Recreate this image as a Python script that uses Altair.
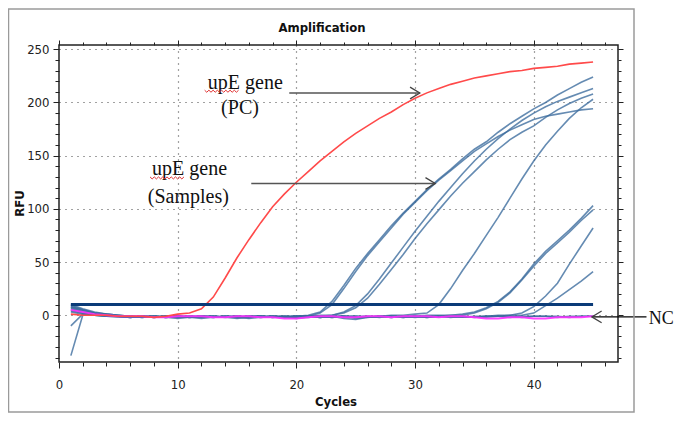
import altair as alt
import pandas as pd

# ---------------- data ----------------
cycles = list(range(1, 46))

pc_rfu = [1, 0, 0, 0, -1, -1, -1, -2, -1, 1,
          2, 6, 17, 35, 54, 71, 87, 102, 114, 125,
          135, 145, 154, 163, 171, 178, 185, 191, 198, 204,
          209, 213, 217, 220, 223, 225, 227, 229, 230, 232,
          233, 234, 236, 237, 238]

nc_rfu = [5, 3, 1, 0, -1, -1, -1, -2, -2, -1,
          -1, -1, -2, -2, -1, -1, -2, -2, -3, -3,
          -2, -1, -1, -2, -2, -1, -1, -2, -1, -1,
          -1, -2, -1, -1, -2, -3, -3, -2, -2, -3,
          -3, -2, -2, -2, -1]

s_e1 = [8, 4, 2, 1, 0, -1, -1, -2, -1, -1, -2, -1, -1, -2, -2, -1, -1, -2, -1, -1,
        0, 3, 13, 28, 44, 58, 71, 84, 96, 107, 118, 128, 137, 147, 156, 163, 172,
        180, 187, 194, 200, 207, 213, 219, 224]
s_e2 = [-38, 0, 1, 0, -1, -1, -2, -1, -2, -1, -1, -2, -2, -1, -2, -1, -2, -1, -1, -2,
        -1, 2, 10, 25, 41, 56, 69, 82, 95, 106, 117, 127, 136, 145, 154, 161, 168,
        174, 179, 184, 187, 189, 191, 193, 194]
s_m1 = [-10, 1, 1, 0, -1, -2, -1, -1, -2, -3, -2, -1, -1, -2, -1, -2, -2, -1, -1, -2,
        -1, -1, 0, 3, 9, 20, 34, 49, 64, 79, 93, 107, 120, 133, 145, 156, 166, 175,
        183, 190, 196, 201, 205, 209, 213]
s_m2 = [9, 5, 2, 1, 0, -1, -1, -2, -1, -2, -1, -1, -2, -1, -1, -2, -1, -2, -1, -1,
        -1, 0, 0, 2, 7, 16, 29, 43, 57, 72, 86, 99, 112, 124, 135, 146, 156, 165,
        172, 178, 186, 193, 199, 204, 208]
s_l1 = [7, 3, 1, 0, -1, -1, -2, -2, -1, -1, -2, -1, -2, -2, -1, -1, -2, -1, -2, -2,
        -1, -1, -2, -1, -1, -2, -1, 0, 0, 1, 2, 10, 25, 42, 58, 75, 92, 110, 128,
        145, 160, 173, 185, 195, 203]
s_p1 = [6, 3, 1, 0, -1, -2, -1, -1, -2, -1, -2, -2, -1, -1, -2, -1, -1, -2, -2, -1,
        -1, -2, -1, -1, -2, -1, -1, -2, -1, -1, 0, 0, 0, 1, 3, 7, 13, 22, 34, 48,
        60, 70, 80, 91, 103]
s_p2 = [5, 2, 0, -1, -1, -2, -2, -1, -1, -2, -1, -1, -2, -2, -1, -2, -1, -1, -2, -1,
        -2, -1, -2, -1, -1, -2, -2, -1, -1, -2, -1, -1, 0, 0, 2, 6, 12, 21, 33, 46,
        58, 68, 78, 89, 99]
s_t1 = [4, 2, 0, -1, -1, -2, -1, -2, -2, -1, -1, -2, -1, -2, -3, -2, -1, -1, -2, -2,
        -1, -2, -1, -3, -4, -2, -1, -1, -2, -1, -2, -2, -1, -1, -2, -1, 0, 0, 2, 8,
        18, 30, 48, 65, 82]
s_f1 = [3, 1, 0, -1, -2, -2, -1, -1, -2, -1, -2, -1, -1, -2, -2, -3, -2, -1, -2, -1,
        -1, -2, -2, -1, -3, -2, -1, -2, -1, -1, -2, -1, -2, -2, -1, -1, -1, 0, 0, 2,
        9, 16, 24, 32, 41]
s_b1 = [10, 6, 3, 1, 0, -1, -2, -1, -1, -2, -2, -1, -2, -1, -1, -2, -1, -2, -2, -1,
        -1, -2, -1, -1, -2, -2, -1, -1, -2, -1, -2, -1, -1, -2, -2, -1, -1, -2, -1,
        -1, -1, -2, -1, -1, -1]
s_b2 = [8, 5, 2, 0, -1, -1, -2, -2, -1, -1, -2, -3, -2, -1, -2, -1, -1, -2, -2, -3,
        -2, -1, -1, -2, -1, -1, -2, -1, -2, -2, -1, -1, -2, -1, -2, -2, -1, -1, -2,
        -1, -1, -1, -2, -1, -1]

threshold_cycles = [1, 45]
threshold_rfu = [10, 10]

x_ticks = list(range(0, 47, 2))
y_ticks = list(range(-40, 251, 10))

# annotations
ann_text = ["upE gene", "(PC)", "upE gene", "(Samples)"]
ann_cycle = [15.7, 15.25, 11.0, 10.9]
ann_rfu = [218.5, 194.5, 137.2, 110.9]
nc_label = ["NC"]
nc_label_cycle = [50.75]
nc_label_rfu = [-3.3]

arrow_start = [19.4, 16.2, 49.5]
arrow_end = [30.4, 31.7, 44.9]
arrow_rfu = [208.9, 123.8, -1.6]
arrow_color = ["#555555", "#555555", "#000000"]

wave_cycle = [13.7, 9.1]
wave_rfu = [211.5, 130.0]

# ---------------- build tables ----------------
samples = {"E1": s_e1, "E2": s_e2, "M1": s_m1, "M2": s_m2, "L1": s_l1,
           "P1": s_p1, "P2": s_p2, "T1": s_t1, "F1": s_f1, "B1": s_b1, "B2": s_b2}
rows = []
for name, vals in samples.items():
    for c, v in zip(cycles, vals):
        rows.append({"cycle": c, "rfu": v, "well": name})
sample_df = pd.DataFrame(rows)
pc_df = pd.DataFrame({"cycle": cycles[:len(pc_rfu)], "rfu": pc_rfu})
nc_df = pd.DataFrame({"cycle": cycles[:len(nc_rfu)], "rfu": nc_rfu})
thr_df = pd.DataFrame({"cycle": threshold_cycles, "rfu": threshold_rfu})
ann_df = pd.DataFrame({"t": ann_text, "cycle": ann_cycle, "rfu": ann_rfu})
ncl_df = pd.DataFrame({"t": nc_label, "cycle": nc_label_cycle, "rfu": nc_label_rfu})
arr_df = pd.DataFrame({"c0": arrow_start, "c1": arrow_end, "rfu": arrow_rfu, "col": arrow_color})
wave_df = pd.DataFrame({"cycle": wave_cycle, "rfu": wave_rfu})
one = pd.DataFrame({"k": [0]})

XS = alt.Scale(domain=[0, 47.1], nice=False, zero=False)
YS = alt.Scale(domain=[-44, 254], nice=False, zero=False)
LF = "'Liberation Sans Narrow', 'DejaVu Sans Condensed', 'Liberation Sans', Arial, sans-serif"
SERIF = "'Liberation Serif', 'Times New Roman', serif"

x_axis = alt.Axis(
    values=x_ticks, title=None,
    labelExpr="datum.value % 10 === 0 ? datum.label : ''",
    labelFont=LF, labelFontSize=13, labelColor="#222", labelPadding=10,
    labelFlush=False, labelOverlap=False,
    tickColor="#222", tickSize={"condition": {"test": "datum.value % 10 === 0", "value": 6}, "value": 4},
    grid=True, gridColor="#444", gridDash=[1, 5], gridWidth=1.2,
    gridOpacity={"condition": {"test": "datum.value % 10 === 0 && datum.value > 0", "value": 1}, "value": 0},
    domain=False)
y_axis = alt.Axis(
    values=y_ticks, title=None,
    labelExpr="datum.value % 50 === 0 ? datum.label : ''",
    labelFont=LF, labelFontSize=13, labelColor="#222", labelPadding=4,
    labelOverlap=False, labelFlush=False,
    tickColor="#222", tickSize={"condition": {"test": "datum.value % 50 === 0", "value": 6}, "value": 4},
    grid=True, gridColor="#444", gridDash=[1, 5], gridWidth=1.2,
    gridOpacity={"condition": {"test": "datum.value % 50 === 0", "value": 1}, "value": 0},
    domain=False)

x_top = alt.Axis(orient="top", values=x_ticks, labels=False, title=None, grid=False,
                 domain=False, tickColor="#222",
                 tickSize={"condition": {"test": "datum.value % 10 === 0", "value": 5}, "value": 3})
y_right = alt.Axis(orient="right", values=y_ticks, labels=False, title=None, grid=False,
                   domain=False, tickColor="#222",
                   tickSize={"condition": {"test": "datum.value % 50 === 0", "value": 5}, "value": 3})

samples_layer = alt.Chart(sample_df).mark_line(color="#3a6a9c", strokeWidth=1.6, opacity=0.78).encode(
    x=alt.X("cycle:Q", scale=XS, axis=x_axis),
    y=alt.Y("rfu:Q", scale=YS, axis=y_axis),
    detail="well:N")

nc_layer = alt.Chart(nc_df).mark_line(color="#ff30ff", strokeWidth=2, opacity=0.9).encode(
    x=alt.X("cycle:Q", scale=XS, axis=None), y=alt.Y("rfu:Q", scale=YS, axis=None))

pc_layer = alt.Chart(pc_df).mark_line(color="#ff4a4a", strokeWidth=1.6).encode(
    x=alt.X("cycle:Q", scale=XS, axis=None), y=alt.Y("rfu:Q", scale=YS, axis=None))

thr_layer = alt.Chart(thr_df).mark_line(color="#0b3b78", strokeWidth=3).encode(
    x=alt.X("cycle:Q", scale=XS, axis=x_top), y=alt.Y("rfu:Q", scale=YS, axis=y_right))

ann_layer = alt.Chart(ann_df).mark_text(font=SERIF, fontSize=20,
                                        color="#111", align="center", baseline="middle", clip=False).encode(
    x=alt.X("cycle:Q", scale=XS, axis=None), y=alt.Y("rfu:Q", scale=YS, axis=None), text="t:N")

ncl_layer = alt.Chart(ncl_df).mark_text(font=SERIF, fontSize=18,
                                        color="#111", align="center", baseline="middle", clip=False).encode(
    x=alt.X("cycle:Q", scale=XS, axis=None), y=alt.Y("rfu:Q", scale=YS, axis=None), text="t:N")

arrow_lines = alt.Chart(arr_df).mark_rule(strokeWidth=1.3, clip=False).encode(
    x=alt.X("c0:Q", scale=XS, axis=None), x2="c1:Q",
    y=alt.Y("rfu:Q", scale=YS, axis=None), color=alt.Color("col:N", scale=None))

head_right = alt.Chart(arr_df.iloc[:2]).mark_point(
    shape="M-1,-0.6L0,0L-1,0.6", filled=False, size=380, strokeWidth=1.3,
    color="#444", opacity=1, clip=False).encode(
    x=alt.X("c1:Q", scale=XS, axis=None), y=alt.Y("rfu:Q", scale=YS, axis=None))
head_left = alt.Chart(arr_df.iloc[2:]).mark_point(
    shape="M1,-0.6L0,0L1,0.6", filled=False, size=380, strokeWidth=1.3,
    color="#444", opacity=1, clip=False).encode(
    x=alt.X("c1:Q", scale=XS, axis=None), y=alt.Y("rfu:Q", scale=YS, axis=None))

wave_layer = alt.Chart(wave_df).mark_point(
    shape="M-1,0L-0.875,0.12L-0.75,0L-0.625,0.12L-0.5,0L-0.375,0.12L-0.25,0L-0.125,0.12L0,0L0.125,0.12L0.25,0L0.375,0.12L0.5,0L0.625,0.12L0.75,0L0.875,0.12L1,0",
    filled=False, size=1150, strokeWidth=1, color="#e03030", opacity=1, clip=False).encode(
    x=alt.X("cycle:Q", scale=XS, axis=None), y=alt.Y("rfu:Q", scale=YS, axis=None))

frame = alt.Chart(one).mark_rect(fillOpacity=0, stroke="#9a9a9a", strokeWidth=1.5, clip=False).encode(
    x=alt.value(-50.5), x2=alt.value(575), y=alt.value(-36), y2=alt.value(367))

title_t = alt.Chart(one).mark_text(text="Amplification", font=LF, fontSize=13, fontWeight="bold",
                                   color="#111", align="center", baseline="middle").encode(
    x=alt.value(263), y=alt.value(-17))
xtitle = alt.Chart(one).mark_text(text="Cycles", font=LF, fontSize=13, fontWeight="bold",
                                  color="#111", align="center", baseline="middle").encode(
    x=alt.value(277), y=alt.value(357))
ytitle = alt.Chart(one).mark_text(text="RFU", font=LF, fontSize=13, fontWeight="bold", angle=270,
                                  color="#111", align="center", baseline="middle").encode(
    x=alt.value(-39), y=alt.value(158.5))

chart = alt.layer(
    samples_layer, nc_layer, pc_layer, thr_layer,
    arrow_lines, head_right, head_left, ann_layer, ncl_layer, wave_layer,
    frame, title_t, xtitle, ytitle
).resolve_axis(x="independent", y="independent").properties(
    width=559, height=317,
    padding={"left": 51, "top": 37, "right": 57, "bottom": 52},
    autosize=alt.AutoSizeParams(type="none"),
    background="white"
).configure_view(stroke="#222", strokeWidth=1.5)

chart.save("out.html", embed_options={"renderer": "svg", "actions": False})
